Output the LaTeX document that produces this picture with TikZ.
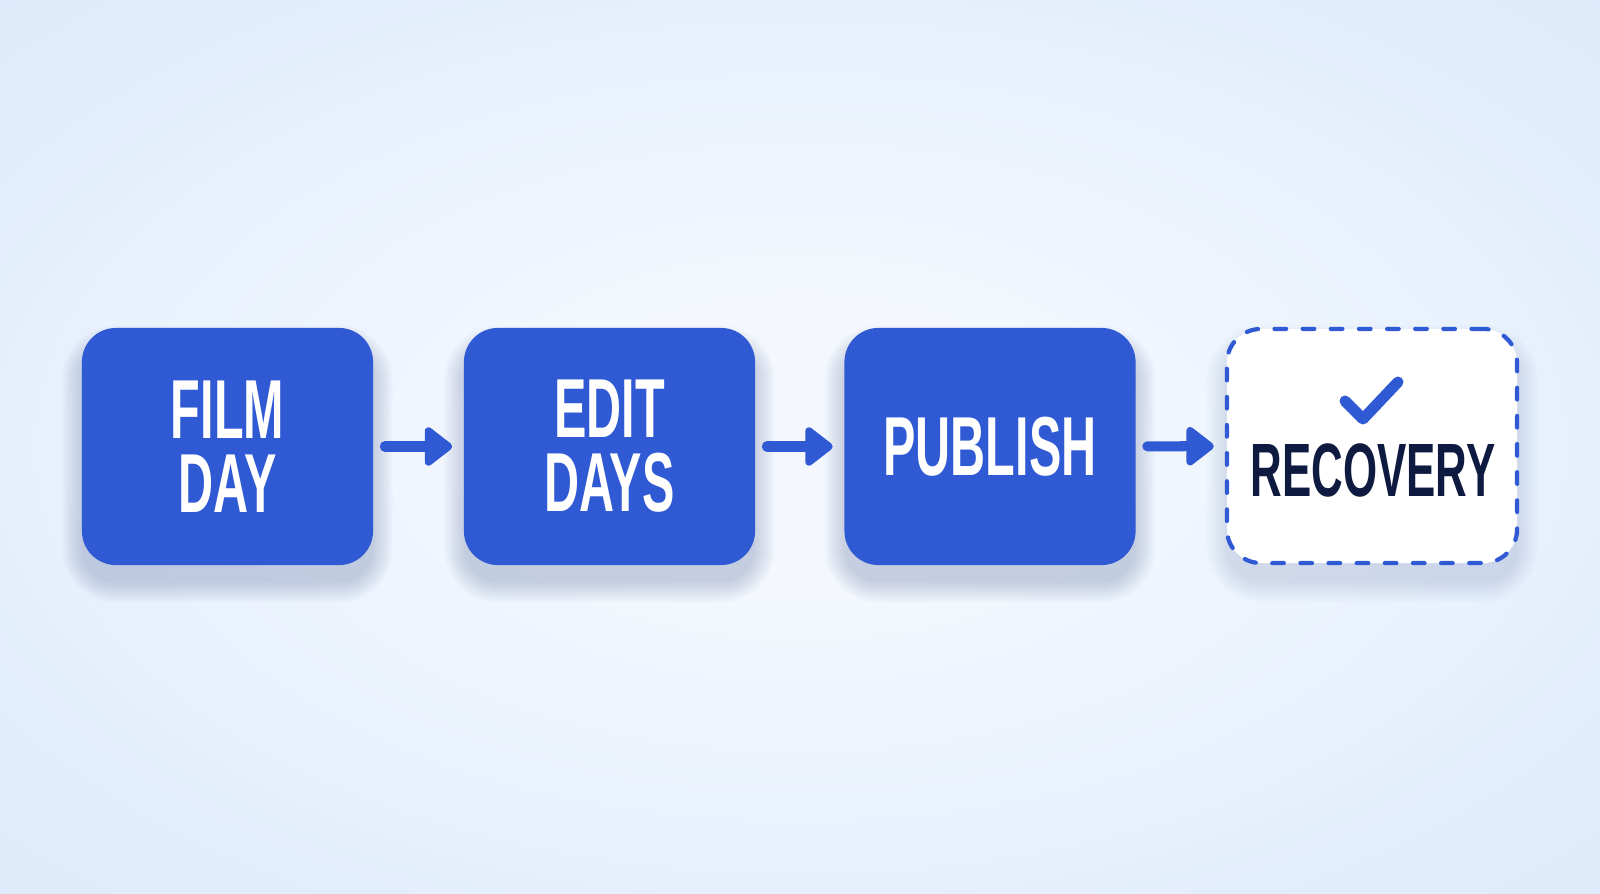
\documentclass[tikz,border=0pt]{standalone}
\usepackage{fontspec}
\setmainfont{Liberation Sans}
\newfontfamily\condfont[FakeStretch=0.58]{Liberation Sans}
\usetikzlibrary{arrows.meta}
\definecolor{boxblue}{HTML}{3059D4}
\definecolor{navy}{HTML}{0E1A40}
\definecolor{bgedge}{HTML}{CFE2F9}
\definecolor{bgmid}{HTML}{F4F8FE}
\definecolor{shadowcol}{HTML}{4A5F96}
\pgfdeclareradialshading{bgshade}{\pgfpoint{0bp}{0bp}}{color(0bp)=(bgmid); color(8bp)=(bgmid); color(52bp)=(bgedge); color(80bp)=(bgedge)}
% soft shadow under a 291x237 px box centred at (#1,#2)
\newcommand{\boxshadow}[3]{%
  \foreach \r in {0,0.7,...,5.6} {
    \fill[shadowcol, opacity=#3, rounded corners=9.7pt+\r pt]
      ([xshift=-\r pt, yshift=-5pt-\r pt]#1-145.5,#2+118.5) rectangle
      ([xshift=\r pt, yshift=-5pt+\r pt]#1+145.5,#2-118.5);
  }}
\begin{document}
\begin{tikzpicture}[x=0.01cm,y=-0.01cm,
  stepbox/.style={rounded corners=0.34cm, minimum width=2.91cm, minimum height=2.37cm,
    inner sep=0pt, align=center, font=\condfont\bfseries\fontsize{23.8}{21}\selectfont,
    text=white, fill=boxblue},
  recbox/.style={rounded corners=0.34cm, minimum width=2.90cm, minimum height=2.34cm,
    inner sep=0pt, fill=white, draw=boxblue, line width=1.2pt,
    dash pattern=on 3.3pt off 4.7pt, line cap=round},
  reclabel/.style={inner sep=0pt, font=\condfont\bfseries\fontsize{21.5}{21}\selectfont, text=navy},
  flow/.style={draw=boxblue, line width=0.1cm, line cap=round,
    -{Triangle[length=0.30cm,width=0.44cm,round]}, shorten <=0.11cm, shorten >=0.11cm},
  tick/.style={draw=boxblue, line width=0.11cm, line cap=round, line join=round}
]
\useasboundingbox (0,0) rectangle (1600,894);
\shade[shading=bgshade] (0,0) rectangle (1600,894);

\boxshadow{227.5}{446.5}{0.03}
\boxshadow{609.5}{446.5}{0.03}
\boxshadow{990}{446.5}{0.03}
\boxshadow{1372}{446}{0.02}

\node[stepbox] (film) at (227.5,446.5) {FILM\\DAY};
\node[stepbox] (edit) at (609.5,446.5) {EDIT\\DAYS};
\node[stepbox] (pub) at (990,446.5) {PUBLISH};
\node[recbox] (rec) at (1372,446) {};
\node[reclabel] (reclab) at (1373,470) {RECOVERY};
\draw[tick] (1345,401) -- (1363,419) -- (1398,382);

\draw[flow] (film) -- (edit);
\draw[flow] (edit) -- (pub);
\draw[flow] (pub) -- (rec);
\end{tikzpicture}
\end{document}
